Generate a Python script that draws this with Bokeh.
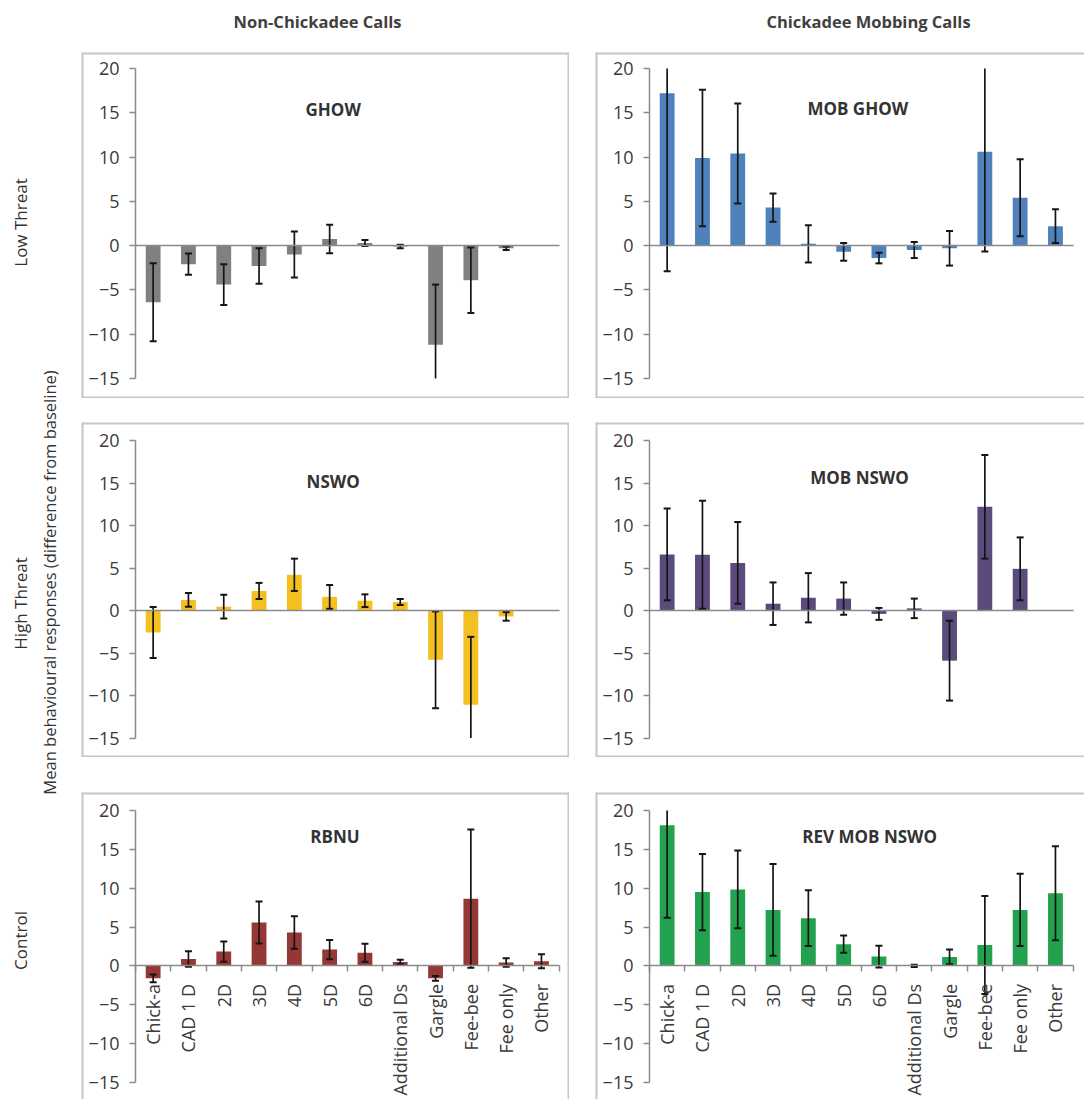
import numpy as np
from math import pi
from bokeh.plotting import figure
from bokeh.models import Range1d, FixedTicker, Span, Spacer
from bokeh.layouts import row, column
from bokeh.core.properties import value
from bokeh.embed import file_html
from bokeh.resources import INLINE

categories = ["Chick-a", "CAD 1 D", "2D", "3D", "4D", "5D", "6D",
              "Additional Ds", "Gargle", "Fee-bee", "Fee only", "Other"]
y_ticks = [-15, -10, -5, 0, 5, 10, 15, 20]
col_titles = ["Non-Chickadee Calls", "Chickadee Mobbing Calls"]
row_titles = ["Low Threat", "High Threat", "Control"]
y_title = "Mean behavioural responses (difference from baseline)"

ghow_mean = [-6.4, -2.1, -4.4, -2.3, -1.0, 0.75, 0.3, -0.1, -11.2, -3.9, -0.3, 0.0]
ghow_err = [4.4, 1.2, 2.3, 2.0, 2.6, 1.6, 0.35, 0.2, 6.8, 3.7, 0.2, 0.0]
mob_ghow_mean = [17.2, 9.9, 10.4, 4.3, 0.2, -0.7, -1.4, -0.5, -0.3, 10.6, 5.4, 2.2]
mob_ghow_err = [20.1, 7.7, 5.65, 1.6, 2.1, 1.0, 0.6, 0.9, 1.95, 11.25, 4.35, 1.9]
nswo_mean = [-2.6, 1.25, 0.45, 2.3, 4.2, 1.6, 1.15, 1.0, -5.8, -11.1, -0.7, 0.0]
nswo_err = [3.0, 0.8, 1.4, 0.95, 1.9, 1.4, 0.75, 0.35, 5.7, 8.0, 0.5, 0.0]
mob_nswo_mean = [6.6, 6.55, 5.6, 0.8, 1.5, 1.4, -0.4, 0.25, -5.9, 12.2, 4.9, 0.0]
mob_nswo_err = [5.4, 6.35, 4.8, 2.5, 2.9, 1.9, 0.7, 1.15, 4.7, 6.1, 3.7, 0.0]
rbnu_mean = [-1.6, 0.9, 1.85, 5.6, 4.3, 2.1, 1.7, 0.5, -1.6, 8.65, 0.45, 0.6]
rbnu_err = [0.5, 1.0, 1.3, 2.7, 2.1, 1.25, 1.15, 0.3, 0.3, 8.9, 0.55, 0.9]
rev_mob_nswo_mean = [18.1, 9.5, 9.85, 7.2, 6.15, 2.8, 1.2, 0.0, 1.15, 2.7, 7.2, 9.35]
rev_mob_nswo_err = [11.9, 4.9, 5.0, 5.9, 3.6, 1.1, 1.4, 0.15, 0.95, 6.3, 4.65, 6.05]

FONT = "Open Sans"
TXT = "#3a3a3a"
AXC = "#8a8a8a"
BORDER = "#c6c6c6"

LEFT_W, RIGHT_W, GAP_W = 488, 489, 26
STRIP_W = 81
TITLE_H = 52
ROW_H = [346, 335, 307]
GAPS_H = [24, 35]
# (pixels from top to y=20, pixels from bottom to y=-15)
ROW_PAD = [(16, 20), (18, 19.5), (18, 17)]
AXIS_OFF = 54.0
CAT_PX = 35.3


def yr(h, pad):
    top, bot = pad
    scale = (h - top - bot) / (y_ticks[-1] - y_ticks[0])
    return Range1d(y_ticks[0] - bot / scale, y_ticks[-1] + top / scale)


def xr(w):
    x0 = -0.5 - AXIS_OFF / CAT_PX
    return Range1d(x0, x0 + w / CAT_PX)


def panel(mean, err, color, title, tpos, w, r, show_labels, right_border):
    h = ROW_H[r]
    p = figure(width=w, height=h, x_range=xr(w), y_range=yr(h, ROW_PAD[r]),
               output_backend="svg", toolbar_location=None, min_border=0,
               outline_line_color=None, background_fill_color="white",
               border_fill_color="white")
    p.grid.visible = False
    idx = np.arange(len(categories))
    mean = np.array(mean, dtype=float)
    err = np.array(err, dtype=float)
    p.vbar(x=idx, top=mean, bottom=0, width=0.42, fill_color=color, line_color=None)

    lo_raw = mean - err
    hi_raw = mean + err
    lo = np.clip(lo_raw, y_ticks[0], y_ticks[-1])
    hi = np.clip(hi_raw, y_ticks[0], y_ticks[-1])
    has = err > 0
    p.segment(x0=idx[has], y0=lo[has], x1=idx[has], y1=hi[has],
              line_color="#151515", line_width=1.7)
    cap_hi = has & (hi_raw <= y_ticks[-1])
    cap_lo = has & (lo_raw >= y_ticks[0])
    p.scatter(x=idx[cap_hi], y=hi[cap_hi], marker="dash", size=7,
              line_color="#151515", line_width=2)
    p.scatter(x=idx[cap_lo], y=lo[cap_lo], marker="dash", size=7,
              line_color="#151515", line_width=2)

    p.text(x=[tpos[0]], y=[tpos[1]], text=[title], text_align="center",
           text_baseline="middle", text_font=value(FONT), text_font_style="bold",
           text_font_size="17px", text_color="#333333")

    ya = p.yaxis[0]
    ya.fixed_location = -0.5
    ya.bounds = (y_ticks[0], y_ticks[-1])
    ya.ticker = FixedTicker(ticks=y_ticks)
    ya.axis_line_color = AXC
    ya.axis_line_width = 1.5
    ya.major_tick_line_color = AXC
    ya.major_tick_line_width = 1.5
    ya.major_tick_out = 6
    ya.major_tick_in = 0
    ya.minor_tick_line_color = None
    ya.major_label_standoff = 10
    ya.major_label_text_font = FONT
    ya.major_label_text_font_size = "18px"
    ya.major_label_text_color = TXT

    xa = p.xaxis[0]
    xa.fixed_location = 0
    xa.bounds = (-0.5, len(categories) - 0.5)
    xa.ticker = FixedTicker(ticks=list(idx), minor_ticks=list(np.arange(len(categories) + 1) - 0.5))
    xa.axis_line_color = AXC
    xa.axis_line_width = 1.5
    xa.major_tick_line_color = None
    xa.major_tick_out = 0
    xa.major_tick_in = 0
    if show_labels:
        xa.major_label_overrides = {int(i): c for i, c in zip(idx, categories)}
        xa.major_label_orientation = pi / 2
        xa.major_label_standoff = 12
        xa.major_label_text_font = FONT
        xa.major_label_text_font_size = "18px"
        xa.major_label_text_color = TXT
        xa.minor_tick_line_color = AXC
        xa.minor_tick_line_width = 1.5
        xa.minor_tick_out = 6
        xa.minor_tick_in = 0
    else:
        xa.major_label_text_color = None
        xa.minor_tick_line_color = None

    xrng, yrng = p.x_range, p.y_range
    sides = [Span(location=xrng.start, dimension="height"),
             Span(location=yrng.end, dimension="width")]
    if right_border:
        sides.append(Span(location=xrng.end, dimension="height"))
    if r < 2:
        sides.append(Span(location=yrng.start, dimension="width"))
    for s in sides:
        s.line_color = BORDER
        s.line_width = 4
        p.add_layout(s)
    return p


specs = [
    [(ghow_mean, ghow_err, "#808080", "GHOW", (5.1, 15.4)),
     (mob_ghow_mean, mob_ghow_err, "#4f81bd", "MOB GHOW", (5.4, 15.5))],
    [(nswo_mean, nswo_err, "#f4c01f", "NSWO", (5.1, 15.2)),
     (mob_nswo_mean, mob_nswo_err, "#5b4a7c", "MOB NSWO", (5.45, 15.6))],
    [(rbnu_mean, rbnu_err, "#953735", "RBNU", (5.15, 16.6)),
     (rev_mob_nswo_mean, rev_mob_nswo_err, "#22a24e", "REV  MOB NSWO", (5.8, 16.6))],
]

rows = []
for r, (lspec, rspec) in enumerate(specs):
    pl = panel(*lspec, LEFT_W, r, r == 2, True)
    pr = panel(*rspec, RIGHT_W, r, r == 2, False)
    rows.append(row(pl, Spacer(width=GAP_W, height=ROW_H[r]), pr))

total_h = TITLE_H + sum(ROW_H) + sum(GAPS_H)

top = figure(width=LEFT_W + GAP_W + RIGHT_W, height=TITLE_H,
             x_range=Range1d(0, LEFT_W + GAP_W + RIGHT_W), y_range=Range1d(0, TITLE_H),
             output_backend="svg", toolbar_location=None, min_border=0,
             outline_line_color=None)
top.axis.visible = False
top.grid.visible = False
top.text(x=[236, 787], y=[31, 31], text=col_titles, text_align="center",
         text_baseline="middle", text_font=value(FONT), text_font_style="bold",
         text_font_size="16.5px", text_color="#404040")

left = figure(width=STRIP_W, height=total_h, x_range=Range1d(0, STRIP_W),
              y_range=Range1d(0, total_h), output_backend="svg",
              toolbar_location=None, min_border=0, outline_line_color=None)
left.axis.visible = False
left.grid.visible = False
left.text(x=[20, 20, 20], y=[total_h - 222, total_h - 603, total_h - 940],
          text=row_titles, angle=pi / 2, text_align="center", text_baseline="middle",
          text_font=value(FONT), text_font_size="17px", text_color="#333333")
left.text(x=[49], y=[total_h - 582], text=[y_title], angle=pi / 2,
          text_align="center", text_baseline="middle", text_font=value(FONT),
          text_font_size="16.5px", text_color="#333333")

body = column(top, rows[0], Spacer(width=10, height=GAPS_H[0]), rows[1],
              Spacer(width=10, height=GAPS_H[1]), rows[2])
layout = row(left, body)

open("out.html", "w").write(file_html(layout, INLINE))
